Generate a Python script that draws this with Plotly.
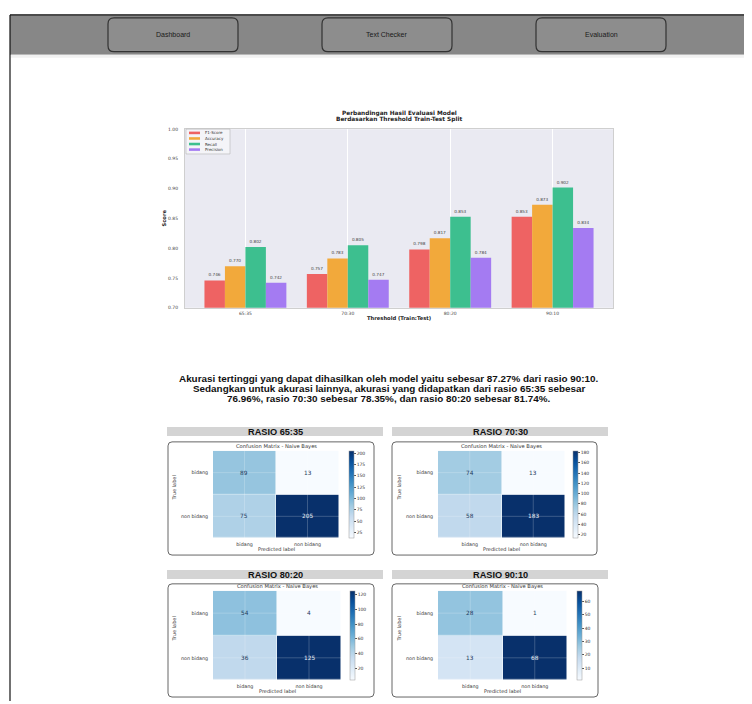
import plotly.graph_objects as go
from plotly.colors import sequential

# page body has an 8px margin, so the figure is offset by 8px
OFF = 8
W, H = 744, 696
def px(x): return (x - OFF) / W
def py(y): return 1 - (y - OFF) / H

# ---------------- data ----------------
ratios = ["65:35", "70:30", "80:20", "90:10"]
f1_score = [0.746, 0.757, 0.798, 0.853]
accuracy = [0.770, 0.783, 0.817, 0.873]
recall = [0.802, 0.805, 0.853, 0.902]
precision = [0.742, 0.747, 0.784, 0.834]
metric_names = ["F1-Score", "Accuracy", "Recall", "Precision"]
metric_colors = ["#EE6363", "#F2A93B", "#3DBF8F", "#A47BF2"]
y_ticks = [0.70, 0.75, 0.80, 0.85, 0.90, 0.95, 1.00]

class_labels = ["bidang", "non bidang"]
cm_65_35 = [[89, 13], [75, 205]]
cm_70_30 = [[74, 13], [58, 183]]
cm_80_20 = [[54, 4], [36, 125]]
cm_90_10 = [[28, 1], [13, 68]]
cm_titles = ["RASIO 65:35", "RASIO 70:30", "RASIO 80:20", "RASIO 90:10"]
cm_dticks = [25, 20, 20, 10]

nav_labels = ["Dashboard", "Text Checker", "Evaluation"]
summary_lines = [
    "Akurasi tertinggi yang dapat dihasilkan oleh model yaitu sebesar 87.27% dari rasio 90:10.",
    "Sedangkan untuk akurasi lainnya, akurasi yang didapatkan dari rasio 65:35 sebesar",
    "76.96%, rasio 70:30 sebesar 78.35%, dan rasio 80:20 sebesar 81.74%.",
]
chart_title = ["Perbandingan Hasil Evaluasi Model", "Berdasarkan Threshold Train-Test Split"]

FONT = "Liberation Sans, Arial, sans-serif"
MPL = "DejaVu Sans, sans-serif"
fig = go.Figure()
shapes = []
annotations = []

def rrect_path(x0, y0, x1, y1, r):
    pts = [
        f"M {px(x0 + r)},{py(y0)}",
        f"L {px(x1 - r)},{py(y0)}",
        f"Q {px(x1)},{py(y0)} {px(x1)},{py(y0 + r)}",
        f"L {px(x1)},{py(y1 - r)}",
        f"Q {px(x1)},{py(y1)} {px(x1 - r)},{py(y1)}",
        f"L {px(x0 + r)},{py(y1)}",
        f"Q {px(x0)},{py(y1)} {px(x0)},{py(y1 - r)}",
        f"L {px(x0)},{py(y0 + r)}",
        f"Q {px(x0)},{py(y0)} {px(x0 + r)},{py(y0)}",
        "Z",
    ]
    return " ".join(pts)

def text(x, y, s, size, color="#222", bold=False, angle=0, xanchor="center", family=FONT):
    annotations.append(dict(
        x=px(x), y=py(y), xref="paper", yref="paper", text=f"<b>{s}</b>" if bold else s,
        showarrow=False, font=dict(size=size, color=color, family=family),
        xanchor=xanchor, yanchor="middle", textangle=angle))

# ---------------- page frame / nav ----------------
shapes.append(dict(type="rect", xref="paper", yref="paper", x0=px(10), x1=px(752), y0=py(53), y1=py(13),
                   fillcolor="#878787", line=dict(width=0), layer="below"))
shapes.append(dict(type="line", xref="paper", yref="paper", x0=px(10), x1=px(752), y0=py(13), y1=py(13),
                   line=dict(color="#111", width=1.2)))
shapes.append(dict(type="line", xref="paper", yref="paper", x0=px(10), x1=px(10), y0=py(13), y1=py(704),
                   line=dict(color="#111", width=1.2)))
shapes.append(dict(type="rect", xref="paper", yref="paper", x0=px(11), x1=px(752), y0=py(56), y1=py(53),
                   fillcolor="#f1f1f1", line=dict(width=0), layer="below"))
nav_x = [108, 322, 536]
for lbl, x0 in zip(nav_labels, nav_x):
    shapes.append(dict(type="path", xref="paper", yref="paper", path=rrect_path(x0, 16, x0 + 130, 50, 6),
                       fillcolor="#8d8d8d", line=dict(color="#333", width=1.2)))
    text(x0 + 65, 33, lbl, 7, "#1a1a1a")

# ---------------- bar chart ----------------
for name, vals, col in zip(metric_names, [f1_score, accuracy, recall, precision], metric_colors):
    fig.add_trace(go.Bar(
        x=ratios, y=vals, name=name, marker=dict(color=col, line=dict(width=0)),
        text=[f"{v:.3f}" for v in vals], textposition="outside",
        textfont=dict(size=4.2, color="#444", family=MPL), cliponaxis=False,
        showlegend=False, xaxis="x", yaxis="y"))

bar_l, bar_r, bar_t, bar_b = 185, 613, 128, 308
layout_axes = dict(
    xaxis=dict(domain=[px(bar_l), px(bar_r)], anchor="y", type="category", range=[-0.59, 3.59],
               showgrid=True, gridcolor="white", gridwidth=1, showline=True, mirror=True,
               linecolor="#cfcfcf", linewidth=1, ticks="", tickfont=dict(size=4.5, color="#444", family=MPL),
               ticklabelstandoff=1, zeroline=False),
    yaxis=dict(domain=[py(bar_b), py(bar_t)], anchor="x", range=[0.70, 1.00], tickvals=y_ticks,
               tickformat=".2f", showgrid=False, showline=True, mirror=True, linecolor="#cfcfcf",
               linewidth=1, ticks="", tickfont=dict(size=4.5, color="#444", family=MPL),
               ticklabelstandoff=5, zeroline=False),
)
shapes.append(dict(type="rect", xref="paper", yref="paper", x0=px(bar_l), x1=px(bar_r), y0=py(bar_b), y1=py(bar_t),
                   fillcolor="#EAEAF2", line=dict(width=0), layer="below"))
text(399, 112.5, chart_title[0], 5.8, "#222", bold=True, family=MPL)
text(399, 118.5, chart_title[1], 5.8, "#222", bold=True, family=MPL)
text(399, 318, "Threshold (Train:Test)", 5.2, "#222", bold=True, family=MPL)
text(164, 218, "Score", 5.2, "#222", bold=True, angle=-90, family=MPL)

# manual legend
shapes.append(dict(type="rect", xref="paper", yref="paper", x0=px(186), x1=px(230), y0=py(153), y1=py(128),
                   fillcolor="rgba(245,245,248,0.9)", line=dict(color="#b5b5b5", width=0.6)))
for i, (name, col) in enumerate(zip(metric_names, metric_colors)):
    yy = 131.8 + i * 5.6
    shapes.append(dict(type="rect", xref="paper", yref="paper", x0=px(189), x1=px(200),
                       y0=py(yy + 1.3), y1=py(yy - 1.3), fillcolor=col, line=dict(width=0)))
    text(203, yy, name, 4, "#333", xanchor="left", family=MPL)

# ---------------- summary ----------------
for i, line in enumerate(summary_lines):
    text(389, 379 + i * 10.3, line, 9.9, "#111", bold=True)

# ---------------- confusion matrices ----------------
panels = [
    dict(cm=cm_65_35, hx=(167, 383), hy=(428, 437), card=(168, 443, 374, 557), hm=(213, 339, 452, 540), cb=349),
    dict(cm=cm_70_30, hx=(392, 608), hy=(428, 437), card=(392, 443, 597, 557), hm=(438, 565, 452, 540), cb=573),
    dict(cm=cm_80_20, hx=(167, 383), hy=(572, 581), card=(168, 586, 374, 700), hm=(213, 341, 593, 683), cb=350),
    dict(cm=cm_90_10, hx=(392, 608), hy=(572, 581), card=(392, 586, 598, 700), hm=(438, 567, 593, 683), cb=577),
]
blues = sequential.Blues
for k, (p, title, dt) in enumerate(zip(panels, cm_titles, cm_dticks)):
    ax = k + 2
    xl, xr, yt, yb = p["hm"]
    shapes.append(dict(type="rect", xref="paper", yref="paper", x0=px(p["hx"][0]), x1=px(p["hx"][1]),
                       y0=py(p["hy"][1]), y1=py(p["hy"][0]), fillcolor="#d4d4d4", line=dict(width=0)))
    text((p["hx"][0] + p["hx"][1]) / 2, (p["hy"][0] + p["hy"][1]) / 2 + 0.5, title, 9.2, "#111", bold=True)
    c = p["card"]
    shapes.append(dict(type="path", xref="paper", yref="paper", path=rrect_path(c[0], c[1], c[2], c[3], 4),
                       fillcolor="white", line=dict(color="#666", width=1), layer="below"))
    z = p["cm"]
    zmin = min(min(r) for r in z); zmax = max(max(r) for r in z)
    fig.add_trace(go.Heatmap(
        z=z, x=class_labels, y=class_labels, colorscale=blues, zmin=zmin, zmax=zmax,
        xaxis=f"x{ax}", yaxis=f"y{ax}", xgap=0.5, ygap=0.5, hoverinfo="skip",
        colorbar=dict(x=px(p["cb"]), xanchor="left", xpad=0, ypad=0, thickness=5,
                      y=py((yt + yb) / 2), yanchor="middle", len=(yb - yt) / H, lenmode="fraction",
                      outlinewidth=0.5, outlinecolor="#999", dtick=dt, tick0=0, ticks="outside", ticklen=2,
                      tickwidth=0.5, tickcolor="#555", tickfont=dict(size=4.5, color="#333", family=MPL))))
    # faint seaborn-style grid lines through the cell centres
    for cl in class_labels:
        shapes.append(dict(type="line", xref=f"x{ax}", yref=f"y{ax} domain", x0=cl, x1=cl, y0=0, y1=1,
                           line=dict(color="rgba(255,255,255,0.3)", width=0.7)))
        shapes.append(dict(type="line", xref=f"x{ax} domain", yref=f"y{ax}", x0=0, x1=1, y0=cl, y1=cl,
                           line=dict(color="rgba(255,255,255,0.3)", width=0.7)))
    thr = (zmin + zmax) / 2
    for i, rl in enumerate(class_labels):
        for j, cl in enumerate(class_labels):
            v = z[i][j]
            annotations.append(dict(x=cl, y=rl, xref=f"x{ax}", yref=f"y{ax}", text=str(v), showarrow=False,
                                    font=dict(size=5.8, color="#e8eef6" if v > thr else "#1d3a5c", family=MPL)))
    layout_axes[f"xaxis{ax}"] = dict(domain=[px(xl), px(xr)], anchor=f"y{ax}", type="category",
                                     showgrid=False, ticks="", showline=False, zeroline=False,
                                     tickfont=dict(size=4.8, color="#333", family=MPL), ticklabelstandoff=2)
    layout_axes[f"yaxis{ax}"] = dict(domain=[py(yb), py(yt)], anchor=f"x{ax}", type="category",
                                     autorange="reversed", showgrid=False, ticks="", showline=False,
                                     zeroline=False, tickfont=dict(size=4.8, color="#333", family=MPL),
                                     ticklabelstandoff=4)
    text((xl + xr) / 2, yt - 4, "Confusion Matrix - Naive Bayes", 5.2, "#333", family=MPL)
    text((xl + xr) / 2, yb + 11, "Predicted label", 5, "#333", family=MPL)
    text(xl - 39, (yt + yb) / 2 - 6, "True label", 5, "#333", angle=-90, family=MPL)

fig.update_layout(
    width=W, height=H, margin=dict(l=0, r=0, t=0, b=0), paper_bgcolor="white", plot_bgcolor="rgba(0,0,0,0)",
    barmode="group", bargap=0.2, bargroupgap=0, showlegend=False,
    shapes=shapes, annotations=annotations, font=dict(family=FONT), **layout_axes)

fig.write_html("out.html")
